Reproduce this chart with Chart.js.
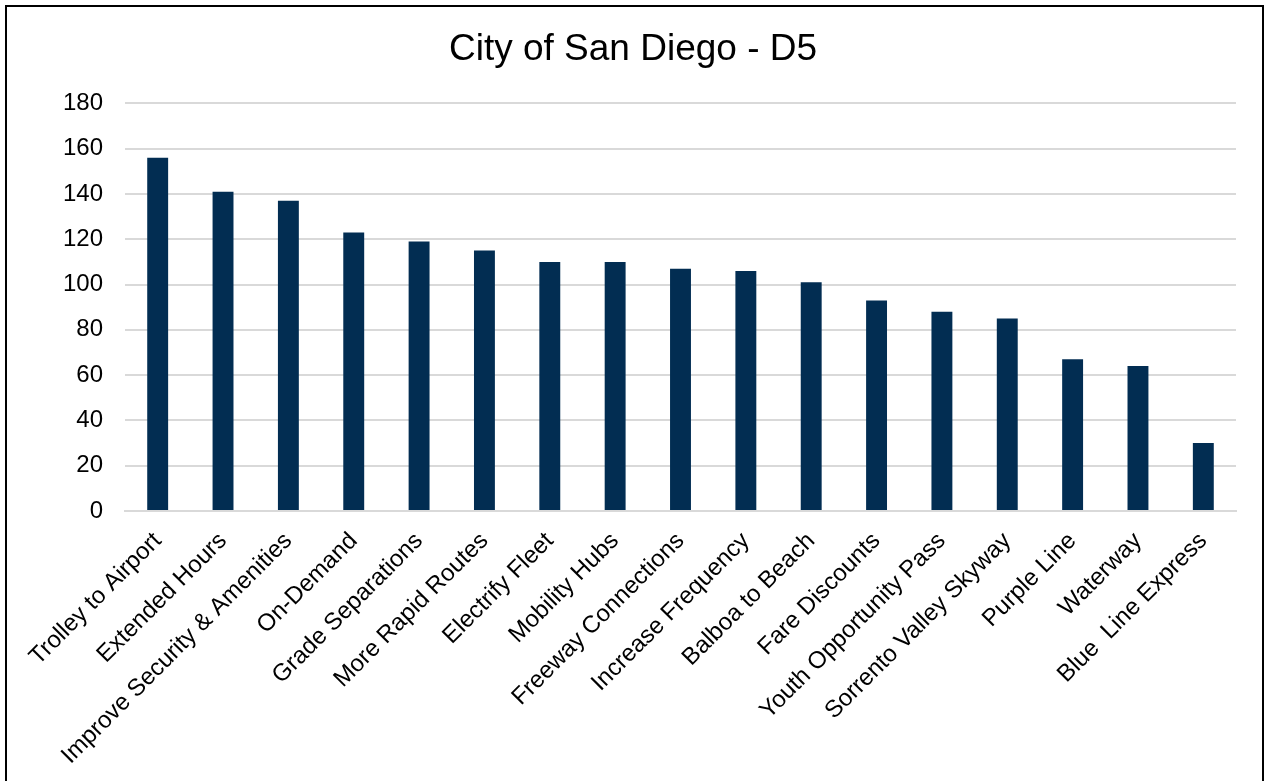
<!DOCTYPE html>
<html>
<head>
<meta charset="utf-8">
<script src="https://cdn.jsdelivr.net/npm/chart.js@4/dist/chart.umd.min.js"></script>
<style>
html,body{margin:0;padding:0;background:#fff;}
#wrap{position:absolute;left:0;top:0;width:1266px;height:781px;}
</style>
</head>
<body>
<div id="wrap"><canvas id="c" width="1266" height="781"></canvas></div>
<script>
const titleText = 'City of San Diego - D5';
const categories = ['Trolley to Airport','Extended Hours','Improve Security & Amenities','On-Demand','Grade Separations','More Rapid Routes','Electrify Fleet','Mobility Hubs','Freeway Connections','Increase Frequency','Balboa to Beach','Fare Discounts','Youth Opportunity Pass','Sorrento Valley Skyway','Purple Line','Waterway','Blue  Line Express'];
const values = [156,141,137,123,119,115,110,110,107,106,101,93,88,85,67,64,30];
const yTicks = [0,20,40,60,80,100,120,140,160,180];

const borderPlugin = {
  id: 'frame',
  beforeDraw(chart) {
    const ctx = chart.ctx;
    ctx.save();
    ctx.fillStyle = '#ffffff';
    ctx.fillRect(0,0,chart.width,chart.height);
    ctx.strokeStyle = '#000000';
    ctx.lineWidth = 2;
    ctx.strokeRect(6,6,1257,800);
    ctx.restore();
  }
};

new Chart(document.getElementById('c'), {
  type: 'bar',
  data: {
    labels: categories,
    datasets: [{
      data: values,
      backgroundColor: '#022D52',
      borderWidth: 0,
      barPercentage: 0.32,
      categoryPercentage: 1.0
    }]
  },
  plugins: [borderPlugin],
  options: {
    responsive: false,
    animation: false,
    devicePixelRatio: 1,
    layout: { padding: { left: 30, right: 30, top: 0, bottom: 0 } },
    plugins: {
      legend: { display: false },
      tooltip: { enabled: false },
      title: {
        display: true,
        text: titleText,
        color: '#000000',
        font: { family: 'Liberation Sans, Arial, sans-serif', size: 37, weight: 'normal' },
        padding: { top: 28, bottom: 31 }
      }
    },
    scales: {
      x: {
        grid: { display: false, drawTicks: false },
        border: { display: true, color: '#D9D9D9', width: 2 },
        ticks: {
          color: '#000000',
          font: { family: 'Liberation Sans, Arial, sans-serif', size: 24 },
          minRotation: 45, maxRotation: 45,
          autoSkip: false,
          padding: 16
        },
        afterFit(scale) { scale.height = 270; }
      },
      y: {
        min: 0, max: 180,
        afterBuildTicks(scale) { scale.ticks = yTicks.map(v => ({ value: v })); },
        grid: { color: '#D9D9D9', lineWidth: 2, drawTicks: false },
        border: { display: false },
        ticks: {
          color: '#000000',
          font: { family: 'Liberation Sans, Arial, sans-serif', size: 24 },
          padding: 22
        },
        afterFit(scale) { scale.width = 95; }
      }
    }
  }
});
</script>
</body>
</html>
